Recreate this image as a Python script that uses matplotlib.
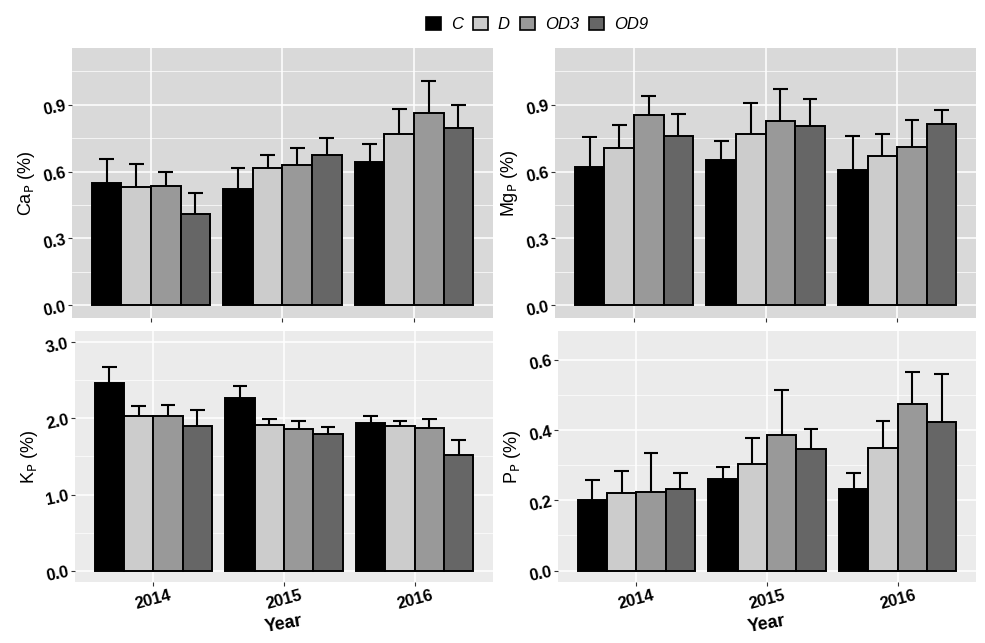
import numpy as np
import matplotlib
matplotlib.use("Agg")
import matplotlib.pyplot as plt
from matplotlib.patches import Patch

plt.rcParams['font.family'] = ['Liberation Sans', 'DejaVu Sans']

years = ['2014', '2015', '2016']
treatments = ['C', 'D', 'OD3', 'OD9']
colors = ['#000000', '#CCCCCC', '#999999', '#666666']

# means and upper error bar ends, rows = treatment, cols = year
ca_mean = [[0.547, 0.523, 0.642], [0.532, 0.618, 0.771], [0.533, 0.630, 0.861], [0.410, 0.674, 0.795]]
ca_top = [[0.657, 0.614, 0.726], [0.632, 0.675, 0.880], [0.600, 0.708, 1.006], [0.502, 0.750, 0.901]]

mg_mean = [[0.621, 0.654, 0.605], [0.708, 0.768, 0.668], [0.855, 0.828, 0.710], [0.762, 0.804, 0.812]]
mg_top = [[0.756, 0.738, 0.758], [0.807, 0.906, 0.771], [0.940, 0.969, 0.830], [0.860, 0.925, 0.875]]

k_mean = [[2.464, 2.266, 1.937], [2.033, 1.915, 1.897], [2.033, 1.858, 1.880], [1.902, 1.801, 1.515]]
k_top = [[2.675, 2.424, 2.029], [2.165, 1.990, 1.968], [2.170, 1.968, 1.994], [2.117, 1.893, 1.717]]

p_mean = [[0.201, 0.262, 0.232], [0.220, 0.304, 0.350], [0.223, 0.387, 0.475], [0.231, 0.345, 0.424]]
p_top = [[0.258, 0.295, 0.278], [0.283, 0.377, 0.427], [0.336, 0.513, 0.566], [0.278, 0.403, 0.560]]

fig = plt.figure(figsize=(9.85, 6.43), dpi=100)
fig.patch.set_facecolor('white')

panels = [
    ([0.0731, 0.5054, 0.4274, 0.4199], ca_mean, ca_top, r'Ca$_\mathrm{P}$ (%)',
     (-0.058, 1.155), [0, 0.3, 0.6, 0.9], [0.15, 0.45, 0.75, 1.05], '#D9D9D9', False),
    ([0.5635, 0.5054, 0.4274, 0.4199], mg_mean, mg_top, r'Mg$_\mathrm{P}$ (%)',
     (-0.058, 1.155), [0, 0.3, 0.6, 0.9], [0.15, 0.45, 0.75, 1.05], '#D9D9D9', False),
    ([0.0761, 0.0949, 0.4244, 0.3904], k_mean, k_top, r'K$_\mathrm{P}$ (%)',
     (-0.15, 3.15), [0, 1, 2, 3], [0.5, 1.5, 2.5], '#EBEBEB', True),
    ([0.5665, 0.0949, 0.4244, 0.3904], p_mean, p_top, r'P$_\mathrm{P}$ (%)',
     (-0.0325, 0.6825), [0, 0.2, 0.4, 0.6], [0.1, 0.3, 0.5], '#EBEBEB', True),
]

x = np.arange(1, len(years) + 1)
bw = 0.9 / len(treatments)

for rect, means, tops, ylab, ylim, major, minor, bg, show_x in panels:
    ax = fig.add_axes(rect)
    ax.set_facecolor(bg)
    for s in ax.spines.values():
        s.set_visible(False)
    ax.set_xlim(0.4, 3.6)
    ax.set_ylim(*ylim)
    ax.set_yticks(major)
    ax.set_yticks(minor, minor=True)
    ax.set_xticks(x)
    ax.grid(True, which='major', color='white', linewidth=1.1)
    ax.grid(True, which='minor', axis='y', color='white', linewidth=0.5)
    ax.set_axisbelow(True)
    ax.tick_params(which='minor', length=0)
    ax.tick_params(which='major', length=3, color='#333333', width=0.8, pad=1.5)
    ax.tick_params(axis='y', pad=0.5)

    for i, t in enumerate(treatments):
        xs = x - 0.45 + bw * (i + 0.5)
        m = np.array(means[i])
        tp = np.array(tops[i])
        ax.bar(xs, m, width=bw, color=colors[i], edgecolor='black', linewidth=1.4, zorder=3)
        ax.vlines(xs, m, tp, color='black', linewidth=1.5, zorder=2)
        ax.hlines(tp, xs - bw / 4, xs + bw / 4, color='black', linewidth=1.5, zorder=2)

    ax.set_yticklabels(['%.1f' % v for v in major], fontsize=12, fontweight='bold', rotation=12)
    ax.set_ylabel(ylab, fontsize=13, labelpad=3)
    if show_x:
        ax.set_xticklabels(years, fontsize=12, fontweight='bold', rotation=15)
        ax.set_xlabel('Year', fontsize=13, fontweight='bold', rotation=10, labelpad=0)
    else:
        ax.set_xticklabels([])

handles = [Patch(facecolor=c, edgecolor='black', linewidth=1.2) for c in colors]
leg = fig.legend(handles, treatments, loc='center', bbox_to_anchor=(0.545, 0.962), ncol=4,
                 frameon=False, handlelength=0.9, handleheight=0.9, columnspacing=0.6,
                 handletextpad=0.6, prop={'style': 'italic', 'size': 12})

fig.savefig('out.png', dpi=100)
